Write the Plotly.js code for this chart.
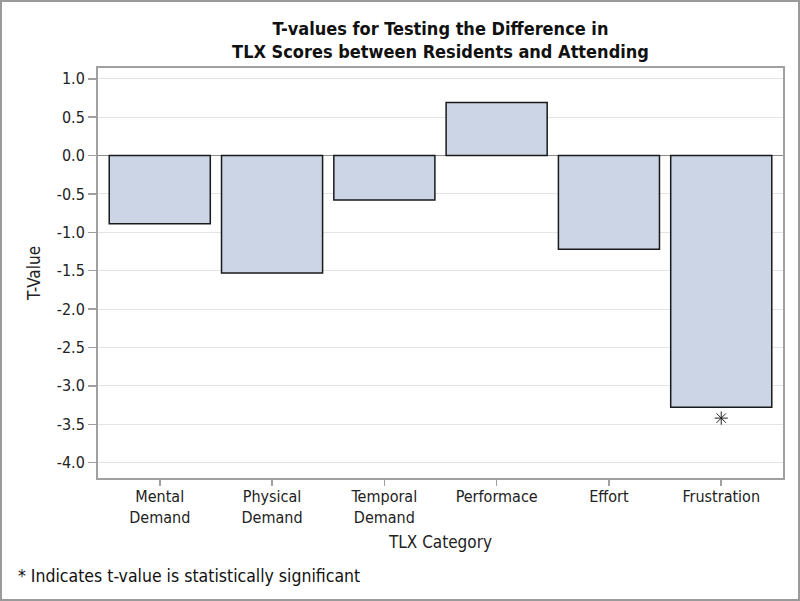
<!DOCTYPE html>
<html>
<head>
<meta charset="utf-8">
<script src="https://cdn.plot.ly/plotly-3.0.1.min.js"></script>
<style>
  html, body { margin: 0; padding: 0; background: #fff; }
  #wrap { position: relative; width: 800px; height: 601px; }
  #chart { position: absolute; left: 0; top: 0; width: 800px; height: 601px; }
  #frame { position: absolute; left: 0; top: 0; width: 800px; height: 601px; box-sizing: border-box; border: 2px solid #9a9a9a; pointer-events: none; }
</style>
</head>
<body>
<div id="wrap"><div id="chart"></div><div id="frame"></div></div>
<script>
const categories = ["Mental<br>Demand", "Physical<br>Demand", "Temporal<br>Demand", "Performace", "Effort", "Frustration"];
const tValues = [-0.89, -1.53, -0.58, 0.69, -1.22, -3.28];
const significant = [false, false, false, false, false, true];
const yTickVals = [1.0, 0.5, 0.0, -0.5, -1.0, -1.5, -2.0, -2.5, -3.0, -3.5, -4.0];
const yTickText = yTickVals.map(v => v.toFixed(1));

const starOffset = 0.14;
const sigX = categories.filter((c, i) => significant[i]);
const sigY = tValues.filter((v, i) => significant[i]).map(v => v < 0 ? v - starOffset : v + starOffset);

const font = "DejaVu Sans Condensed, DejaVu Sans, sans-serif";

const traces = [
  {
    type: "bar",
    x: categories,
    y: tValues,
    marker: { color: "#CBD5E5", line: { color: "#1a1a1a", width: 1.5 } },
    hoverinfo: "x+y"
  },
  {
    type: "scatter",
    mode: "markers",
    x: sigX,
    y: sigY,
    marker: { symbol: "asterisk-open", size: 11, color: "#222", line: { color: "#222", width: 1 } },
    hoverinfo: "skip"
  }
];

const layout = {
  width: 800,
  height: 601,
  margin: { l: 98, r: 17, t: 68, b: 123 },
  paper_bgcolor: "#fff",
  plot_bgcolor: "#fff",
  showlegend: false,
  bargap: 0.1,
  font: { family: font, color: "#222", size: 16 },
  title: {
    text: "<b>T-values for Testing the Difference in<br>TLX Scores between Residents and Attending</b>",
    font: { family: font, size: 18, color: "#111" },
    x: 0.5, xanchor: "center", xref: "paper",
    y: 1 - 35 / 601, yanchor: "middle", yref: "container"
  },
  xaxis: {
    type: "category",
    range: [-0.55, 5.55],
    showline: true, linecolor: "#a0a0a0", linewidth: 2, mirror: true,
    ticks: "outside", ticklen: 6, tickcolor: "#a0a0a0", tickwidth: 1.5,
    ticklabelstandoff: -3,
    tickfont: { family: font, size: 16, color: "#222" },
    showgrid: false,
    title: { text: "TLX Category", font: { family: font, size: 17, color: "#222" }, standoff: 10 }
  },
  yaxis: {
    range: [-4.2, 1.14],
    tickvals: yTickVals,
    ticktext: yTickText,
    showline: true, linecolor: "#a0a0a0", linewidth: 2, mirror: true,
    ticks: "outside", ticklen: 8, tickcolor: "#a0a0a0", tickwidth: 1.5,
    tickfont: { family: font, size: 16, color: "#222" },
    showgrid: true, gridcolor: "#e4e4e4", gridwidth: 1,
    zeroline: true, zerolinecolor: "#8a8a8a", zerolinewidth: 1.5,
    title: { text: "T-Value", font: { family: font, size: 17, color: "#222" }, standoff: 12 }
  },
  annotations: [
    {
      text: "* Indicates t-value is statistically significant",
      xref: "paper", yref: "paper",
      x: -82 / 685, y: -98 / 410,
      xanchor: "left", yanchor: "middle",
      showarrow: false,
      font: { family: font, size: 17.5, color: "#111" }
    }
  ]
};

Plotly.newPlot("chart", traces, layout, { displayModeBar: false, staticPlot: true });
</script>
</body>
</html>
